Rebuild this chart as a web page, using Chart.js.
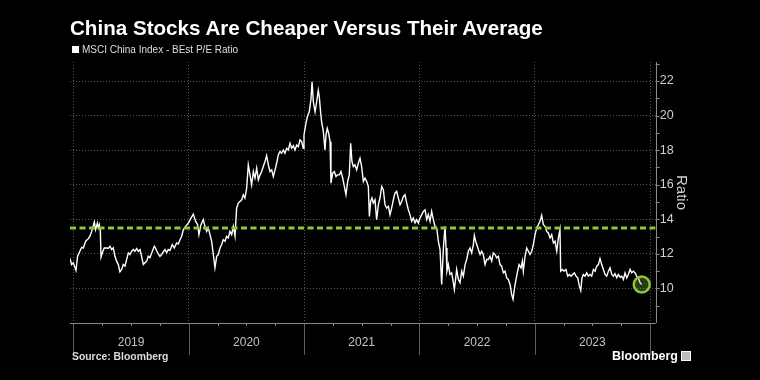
<!DOCTYPE html>
<html>
<head>
<meta charset="utf-8">
<script src="https://cdn.jsdelivr.net/npm/chart.js@4.4.1/dist/chart.umd.min.js"></script>
<style>
  html, body { margin: 0; padding: 0; background: #000; }
  #wrap { position: relative; width: 760px; height: 380px; overflow: hidden; background: #000; font-family: "Liberation Sans", Arial, sans-serif; }
  #chart { position: absolute; left: 0; top: 0; }
  #title { position: absolute; left: 70px; top: 16px; color: #fff; font-weight: bold; font-size: 20.6px; line-height: 24px; white-space: nowrap; }
  #legend { position: absolute; left: 72px; top: 44px; color: #ddd; font-size: 10px; line-height: 12px; white-space: nowrap; }
  #legend i { display: inline-block; width: 7px; height: 7px; background: #fff; margin-right: 3px; vertical-align: -0px; }
  #source { position: absolute; left: 72px; top: 351px; color: #ddd; font-weight: bold; font-size: 10.4px; line-height: 12px; }
  #logo { position: absolute; left: 612px; top: 349px; color: #fff; font-weight: bold; font-size: 12.5px; line-height: 15px; white-space: nowrap; }
  #logo b { display: inline-block; width: 8px; height: 8px; margin-left: 3px; border: 1px solid #fff; background: #bbb; vertical-align: -1px; }
</style>
</head>
<body>
<div id="wrap">
  <canvas id="chart" width="760" height="380"></canvas>
  <div id="title">China Stocks Are Cheaper Versus Their Average</div>
  <div id="legend"><i></i>MSCI China Index - BEst P/E Ratio</div>
  <div id="source">Source: Bloomberg</div>
  <div id="logo">Bloomberg<b></b></div>
</div>
<script>
// dates as decimal years
const dates = [
  2018.970, 2018.984, 2018.999, 2019.022, 2019.036, 2019.071, 2019.085, 2019.106, 2019.129, 2019.143,
  2019.158, 2019.181, 2019.192, 2019.207, 2019.215, 2019.224, 2019.233, 2019.239, 2019.250, 2019.267,
  2019.288, 2019.302, 2019.317, 2019.331, 2019.345, 2019.360, 2019.374, 2019.389, 2019.403, 2019.418,
  2019.432, 2019.447, 2019.461, 2019.476, 2019.490, 2019.505, 2019.519, 2019.533, 2019.548, 2019.562,
  2019.577, 2019.591, 2019.606, 2019.620, 2019.635, 2019.649, 2019.663, 2019.684, 2019.701, 2019.713,
  2019.730, 2019.750, 2019.765, 2019.782, 2019.794, 2019.808, 2019.822, 2019.837, 2019.857, 2019.874,
  2019.895, 2019.909, 2019.924, 2019.938, 2019.953, 2019.973, 2019.996,
  2020.019, 2020.039, 2020.060, 2020.077, 2020.088, 2020.106, 2020.126, 2020.140, 2020.155, 2020.169,
  2020.184, 2020.198, 2020.213, 2020.227, 2020.242, 2020.256, 2020.271, 2020.285, 2020.299, 2020.314,
  2020.328, 2020.343, 2020.357, 2020.372, 2020.386, 2020.401, 2020.415, 2020.430, 2020.444, 2020.459,
  2020.473, 2020.487, 2020.502, 2020.516, 2020.531, 2020.545, 2020.560, 2020.574, 2020.589, 2020.603,
  2020.618, 2020.632, 2020.646, 2020.661, 2020.675, 2020.690, 2020.704, 2020.719, 2020.733, 2020.748,
  2020.762, 2020.776, 2020.791, 2020.805, 2020.820, 2020.834, 2020.849, 2020.863, 2020.878, 2020.892,
  2020.907, 2020.921, 2020.936, 2020.950, 2020.964,
  2020.979, 2020.993, 2020.999, 2021.016, 2021.028, 2021.045, 2021.060, 2021.069, 2021.080, 2021.095,
  2021.109, 2021.123, 2021.132, 2021.144, 2021.152, 2021.167, 2021.181, 2021.190, 2021.201, 2021.213,
  2021.225, 2021.233, 2021.248, 2021.262, 2021.277, 2021.288, 2021.306, 2021.320, 2021.335, 2021.349,
  2021.363, 2021.378, 2021.392, 2021.404, 2021.415, 2021.427, 2021.441, 2021.456, 2021.470, 2021.485,
  2021.499, 2021.514, 2021.528, 2021.543, 2021.557, 2021.566, 2021.577, 2021.589, 2021.600, 2021.615,
  2021.629, 2021.644, 2021.658, 2021.673, 2021.687, 2021.702, 2021.716, 2021.731, 2021.745, 2021.759,
  2021.774, 2021.788, 2021.803, 2021.817, 2021.832, 2021.846, 2021.861, 2021.875, 2021.890, 2021.904,
  2021.918, 2021.933, 2021.947, 2021.962,
  2021.976, 2021.991, 2022.005, 2022.020, 2022.034, 2022.049, 2022.063, 2022.077, 2022.092, 2022.106,
  2022.121, 2022.135, 2022.150, 2022.164, 2022.179, 2022.193, 2022.208, 2022.222, 2022.231, 2022.239,
  2022.251, 2022.265, 2022.280, 2022.294, 2022.303, 2022.315, 2022.323, 2022.338, 2022.352, 2022.367,
  2022.381, 2022.396, 2022.410, 2022.424, 2022.439, 2022.453, 2022.468, 2022.476, 2022.488, 2022.497,
  2022.511, 2022.526, 2022.540, 2022.554, 2022.569, 2022.583, 2022.598, 2022.612, 2022.627, 2022.641,
  2022.656, 2022.670, 2022.685, 2022.699, 2022.713, 2022.728, 2022.742, 2022.757, 2022.771, 2022.786,
  2022.800, 2022.812, 2022.823, 2022.835, 2022.852, 2022.864, 2022.881, 2022.893, 2022.901, 2022.916,
  2022.930, 2022.945, 2022.959,
  2022.974, 2022.988, 2023.003, 2023.017, 2023.032, 2023.046, 2023.060, 2023.075, 2023.089, 2023.104,
  2023.118, 2023.133, 2023.147, 2023.162, 2023.176, 2023.191, 2023.205, 2023.219, 2023.225, 2023.240,
  2023.254, 2023.271, 2023.286, 2023.300, 2023.315, 2023.329, 2023.344, 2023.358, 2023.373, 2023.387,
  2023.399, 2023.410, 2023.422, 2023.436, 2023.451, 2023.465, 2023.480, 2023.494, 2023.509, 2023.523,
  2023.538, 2023.552, 2023.566, 2023.581, 2023.595, 2023.610, 2023.624, 2023.639, 2023.653, 2023.668,
  2023.682, 2023.696, 2023.711, 2023.725, 2023.740, 2023.754, 2023.769, 2023.783, 2023.798, 2023.812,
  2023.827, 2023.841, 2023.855, 2023.870, 2023.884, 2023.899, 2023.913, 2023.928,
];

const peRatio = [
  11.73, 11.38, 11.48, 11.04, 11.86, 12.38, 12.34, 12.73, 12.88, 13.02,
  13.30, 13.84, 13.40, 13.78, 13.50, 13.69, 13.30, 11.81, 12.06, 12.34,
  12.34, 12.31, 12.44, 12.25, 12.34, 11.86, 11.58, 11.38, 10.96, 11.10,
  11.38, 11.29, 11.67, 12.06, 11.96, 12.15, 12.25, 12.15, 12.31, 12.15,
  12.25, 11.86, 11.38, 11.48, 11.58, 11.86, 11.77, 12.15, 12.44, 12.31,
  12.06, 11.86, 11.96, 12.15, 12.25, 12.06, 12.25, 12.19, 12.54, 12.34,
  12.63, 12.57, 12.82, 13.02, 13.40, 13.59, 13.78,
  14.07, 14.30, 13.88, 13.69, 13.11, 13.69, 13.98, 13.59, 13.30, 13.50,
  13.11, 12.73, 11.96, 11.19, 11.86, 11.96, 12.34, 12.54, 12.82, 12.73,
  13.02, 12.92, 13.30, 13.11, 13.59, 13.02, 14.65, 14.94, 15.03, 15.13,
  15.42, 15.23, 15.80, 17.15, 16.57, 15.99, 16.76, 16.38, 16.96, 16.28,
  16.57, 16.76, 17.05, 17.34, 17.68, 17.15, 16.76, 16.86, 16.47, 16.86,
  17.24, 17.72, 17.92, 17.82, 18.01, 17.82, 18.11, 18.01, 18.40, 18.11,
  18.26, 18.01, 18.30, 18.20, 18.59,
  18.49, 18.11, 18.88, 19.55, 19.93, 20.22, 20.99, 21.95, 20.80, 20.22,
  20.80, 21.47, 21.09, 20.13, 19.64, 19.07, 18.01, 18.88, 19.26, 18.97,
  18.49, 16.09, 16.67, 16.76, 16.47, 16.57, 16.57, 16.76, 16.38, 15.90,
  15.42, 16.19, 16.57, 18.40, 17.34, 17.05, 17.15, 16.86, 17.24, 17.53,
  17.05, 16.19, 16.38, 16.19, 15.90, 14.17, 15.03, 15.23, 14.94, 15.13,
  13.98, 14.84, 15.23, 15.90, 15.71, 14.84, 14.65, 14.75, 14.27, 14.65,
  15.13, 15.51, 15.61, 15.23, 14.84, 15.03, 15.32, 15.42, 14.94, 14.55,
  14.27, 13.88, 14.07, 13.79,
  13.98, 13.78, 14.07, 14.27, 14.46, 14.55, 13.98, 14.27, 13.88, 14.46,
  13.98, 13.59, 13.50, 12.73, 12.25, 10.23, 12.34, 13.59, 12.34, 11.00,
  11.38, 10.81, 10.90, 10.33, 9.94, 10.61, 11.10, 10.52, 10.33, 11.00,
  10.71, 11.38, 11.67, 12.15, 12.34, 12.06, 12.54, 13.07, 12.73, 12.54,
  12.25, 11.96, 12.15, 11.96, 11.38, 11.67, 11.67, 11.86, 11.58, 12.06,
  11.96, 11.77, 11.86, 11.38, 11.29, 10.90, 11.00, 10.61, 10.52, 10.23,
  9.65, 9.37, 9.94, 10.42, 11.00, 11.38, 11.19, 11.58, 11.00, 11.86,
  12.34, 12.15, 11.96,
  12.15, 12.54, 13.11, 13.50, 13.69, 13.88, 14.23, 13.69, 13.59, 13.30,
  13.21, 12.92, 13.11, 12.63, 12.73, 12.15, 12.92, 13.40, 11.00, 11.10,
  11.00, 11.10, 10.71, 10.81, 10.71, 10.81, 10.90, 10.71, 10.61, 10.13,
  9.88, 10.61, 10.81, 10.71, 10.90, 10.71, 10.81, 10.71, 11.10, 11.00,
  11.29, 11.38, 11.73, 11.38, 11.10, 10.81, 10.71, 11.00, 11.19, 10.81,
  10.71, 10.85, 10.61, 10.81, 10.65, 10.71, 10.52, 10.90, 10.61, 10.81,
  11.10, 10.90, 11.00, 10.90, 10.71, 10.61, 10.33, 10.23,
];

const averageRatio = 13.5;
const yearTicks = [2019, 2020, 2021, 2022, 2023, 2024];
const yearLabels = ["2019", "2020", "2021", "2022", "2023", ""];
const ratioTicks = [10, 12, 14, 16, 18, 20, 22];
const xRange = [2018.97, 2024.049];
const yRange = [8, 23.1];

const lastIndex = peRatio.length - 1;
const seriesPoints = dates.map((d, i) => ({ x: d, y: peRatio[i] }));
const averagePoints = xRange.map((d) => ({ x: d, y: averageRatio }));

Chart.defaults.font.family = "'Liberation Sans', Arial, sans-serif";

// axis lines, quarter ticks, year dividers and unit ticks on the ratio axis
const axisDecor = {
  id: "axisDecor",
  afterDraw(chart) {
    const { ctx, chartArea: area, scales } = chart;
    const x = scales.x;
    const y = scales.y;
    ctx.save();
    ctx.strokeStyle = "#8a8a8a";
    ctx.lineWidth = 1;
    ctx.setLineDash([]);
    ctx.beginPath();
    ctx.moveTo(area.left, Math.round(area.bottom) + 0.5);
    ctx.lineTo(area.right, Math.round(area.bottom) + 0.5);
    ctx.moveTo(Math.round(area.right) + 0.5, area.top);
    ctx.lineTo(Math.round(area.right) + 0.5, area.bottom);
    yearTicks.slice(0, -1).forEach((yr) => {
      [0.25, 0.5, 0.75].forEach((q) => {
        const px = Math.round(x.getPixelForValue(yr + q)) + 0.5;
        ctx.moveTo(px, area.bottom);
        ctx.lineTo(px, area.bottom + 3);
      });
    });
    for (let v = Math.ceil(yRange[0]) + 1; v <= yRange[1]; v++) {
      const py = Math.round(y.getPixelForValue(v)) + 0.5;
      ctx.moveTo(area.right, py);
      ctx.lineTo(area.right + 4, py);
    }
    ctx.stroke();
    ctx.strokeStyle = "#5e5e5e";
    ctx.beginPath();
    yearTicks.forEach((yr) => {
      const px = Math.round(x.getPixelForValue(yr)) + 0.5;
      ctx.moveTo(px, area.bottom + 1);
      ctx.lineTo(px, area.bottom + 32);
    });
    ctx.stroke();
    ctx.restore();
  },
};

const ctx = document.querySelector("#chart");
new Chart(ctx, {
  type: "line",
  data: {
    datasets: [
      {
        label: "Average",
        data: averagePoints,
        borderColor: "#8dc63f",
        borderWidth: 3,
        borderDash: [6, 3.5],
        pointRadius: 0,
        fill: false,
      },
      {
        label: "MSCI China Index - BEst P/E Ratio",
        data: seriesPoints,
        borderColor: "#ffffff",
        borderWidth: 1.4,
        tension: 0,
        fill: false,
        pointRadius: (c) => (c.dataIndex === lastIndex ? 8 : 0),
        pointBackgroundColor: "rgba(141, 198, 63, 0.3)",
        pointBorderColor: "#8dc63f",
        pointBorderWidth: 2.5,
      },
    ],
  },
  options: {
    responsive: false,
    animation: false,
    events: [],
    layout: { padding: { left: 70, top: 62, right: 70, bottom: 0 } },
    plugins: {
      legend: { display: false },
      tooltip: { enabled: false },
    },
    scales: {
      x: {
        type: "linear",
        min: xRange[0],
        max: xRange[1],
        afterFit: (scale) => { scale.height = 57; },
        afterBuildTicks: (scale) => { scale.ticks = yearTicks.map((v) => ({ value: v })); },
        ticks: {
          autoSkip: false,
          maxRotation: 0,
          color: "#c4c4c4",
          font: { size: 12 },
          padding: 12,
          labelOffset: 57.6,
          callback: (value) => yearLabels[yearTicks.indexOf(value)],
        },
        grid: { color: "#555", lineWidth: 1, drawTicks: false },
        border: { display: false, dash: [1, 2] },
      },
      y: {
        position: "right",
        min: yRange[0],
        max: yRange[1],
        afterFit: (scale) => { scale.width = 34.3; },
        afterBuildTicks: (scale) => { scale.ticks = ratioTicks.map((v) => ({ value: v })); },
        ticks: {
          color: "#d0d0d0",
          font: { size: 12.5 },
          padding: 4,
        },
        grid: { color: "#555", lineWidth: 1, drawTicks: false },
        border: { display: false, dash: [1, 2] },
        title: {
          display: true,
          text: "Ratio",
          color: "#d0d0d0",
          font: { size: 15 },
          padding: 0,
        },
      },
    },
  },
  plugins: [axisDecor],
});
</script>
</body>
</html>
